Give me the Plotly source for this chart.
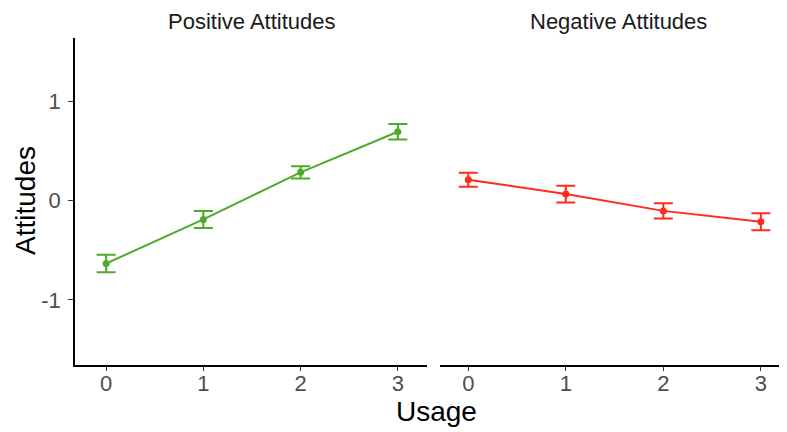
import plotly.graph_objects as go

usage = [0, 1, 2, 3]
pos_mean = [-0.634, -0.19, 0.284, 0.693]
pos_err = [0.087, 0.086, 0.062, 0.078]
neg_mean = [0.21, 0.065, -0.104, -0.213]
neg_err = [0.071, 0.084, 0.076, 0.085]
panel_titles = ["Positive Attitudes", "Negative Attitudes"]
y_ticks = [-1, 0, 1]

GREEN = "#4DAB29"
RED = "#FF2B1C"
FONT = "Liberation Sans, Arial, sans-serif"

fig = go.Figure()
fig.add_trace(go.Scatter(
    x=usage, y=pos_mean, mode="lines+markers", xaxis="x", yaxis="y",
    line=dict(color=GREEN, width=2), marker=dict(color=GREEN, size=7),
    error_y=dict(type="data", array=pos_err, color=GREEN, thickness=2, width=9.5),
    showlegend=False))
fig.add_trace(go.Scatter(
    x=usage, y=neg_mean, mode="lines+markers", xaxis="x2", yaxis="y2",
    line=dict(color=RED, width=2), marker=dict(color=RED, size=7),
    error_y=dict(type="data", array=neg_err, color=RED, thickness=2, width=9.5),
    showlegend=False))

W, H = 787, 432
OFF = 8  # page body margin
ytop, ybot = 38 - OFF, 365 - OFF
yd = [1 - ybot / H, 1 - ytop / H]
yr = [-1.656, 1.637]

tickfont = dict(family=FONT, size=22, color="#4D4D4D")
xcommon = dict(tickmode="array", tickvals=usage, ticktext=[str(u) for u in usage],
               showline=True, linecolor="black", linewidth=1.5, ticks="outside",
               ticklen=4, tickcolor="#333333", tickwidth=1.2, showgrid=False,
               zeroline=False, tickfont=tickfont, ticklabelstandoff=-6)

fig.update_layout(
    width=W, height=H, margin=dict(l=0, r=0, t=0, b=0),
    paper_bgcolor="white", plot_bgcolor="white",
    xaxis=dict(xcommon, domain=[(75 - OFF) / W, (427 - OFF) / W], range=[-0.32, 3.30], anchor="y"),
    xaxis2=dict(xcommon, domain=[(440 - OFF) / W, 1.0], range=[-0.29, 3.35], anchor="y2"),
    yaxis=dict(domain=yd, range=yr, tickmode="array", tickvals=y_ticks,
               ticktext=["-1", "0", "1"], showline=True, linecolor="black",
               linewidth=1.5, ticks="outside", ticklen=5, tickcolor="#333333",
               tickwidth=1.2, showgrid=False, zeroline=False, tickfont=tickfont,
               ticklabelstandoff=3, anchor="x"),
    yaxis2=dict(domain=yd, range=yr, showline=False, showticklabels=False,
                ticks="", showgrid=False, zeroline=False, anchor="x2"),
    annotations=[
        dict(text=panel_titles[0], x=(252 - OFF) / W, y=1.0, xref="paper",
             yref="paper", showarrow=False, xanchor="center", yanchor="top",
             borderpad=0, font=dict(family=FONT, size=22, color="#1A1A1A")),
        dict(text=panel_titles[1], x=(618 - OFF) / W, y=1.0,
             xref="paper", yref="paper", showarrow=False, xanchor="center",
             yanchor="top", borderpad=0, font=dict(family=FONT, size=22, color="#1A1A1A")),
        dict(text="Usage", x=(436 - OFF) / W, y=1 - (411 - OFF) / H, xref="paper", yref="paper",
             showarrow=False, xanchor="center", yanchor="middle",
             font=dict(family=FONT, size=28, color="black")),
        dict(text="Attitudes", x=(25 - OFF) / W, y=1 - (201 - OFF) / H, xref="paper", yref="paper",
             showarrow=False, textangle=-90, xanchor="center", yanchor="middle",
             font=dict(family=FONT, size=28, color="black")),
    ],
)

fig.write_html("out.html")
